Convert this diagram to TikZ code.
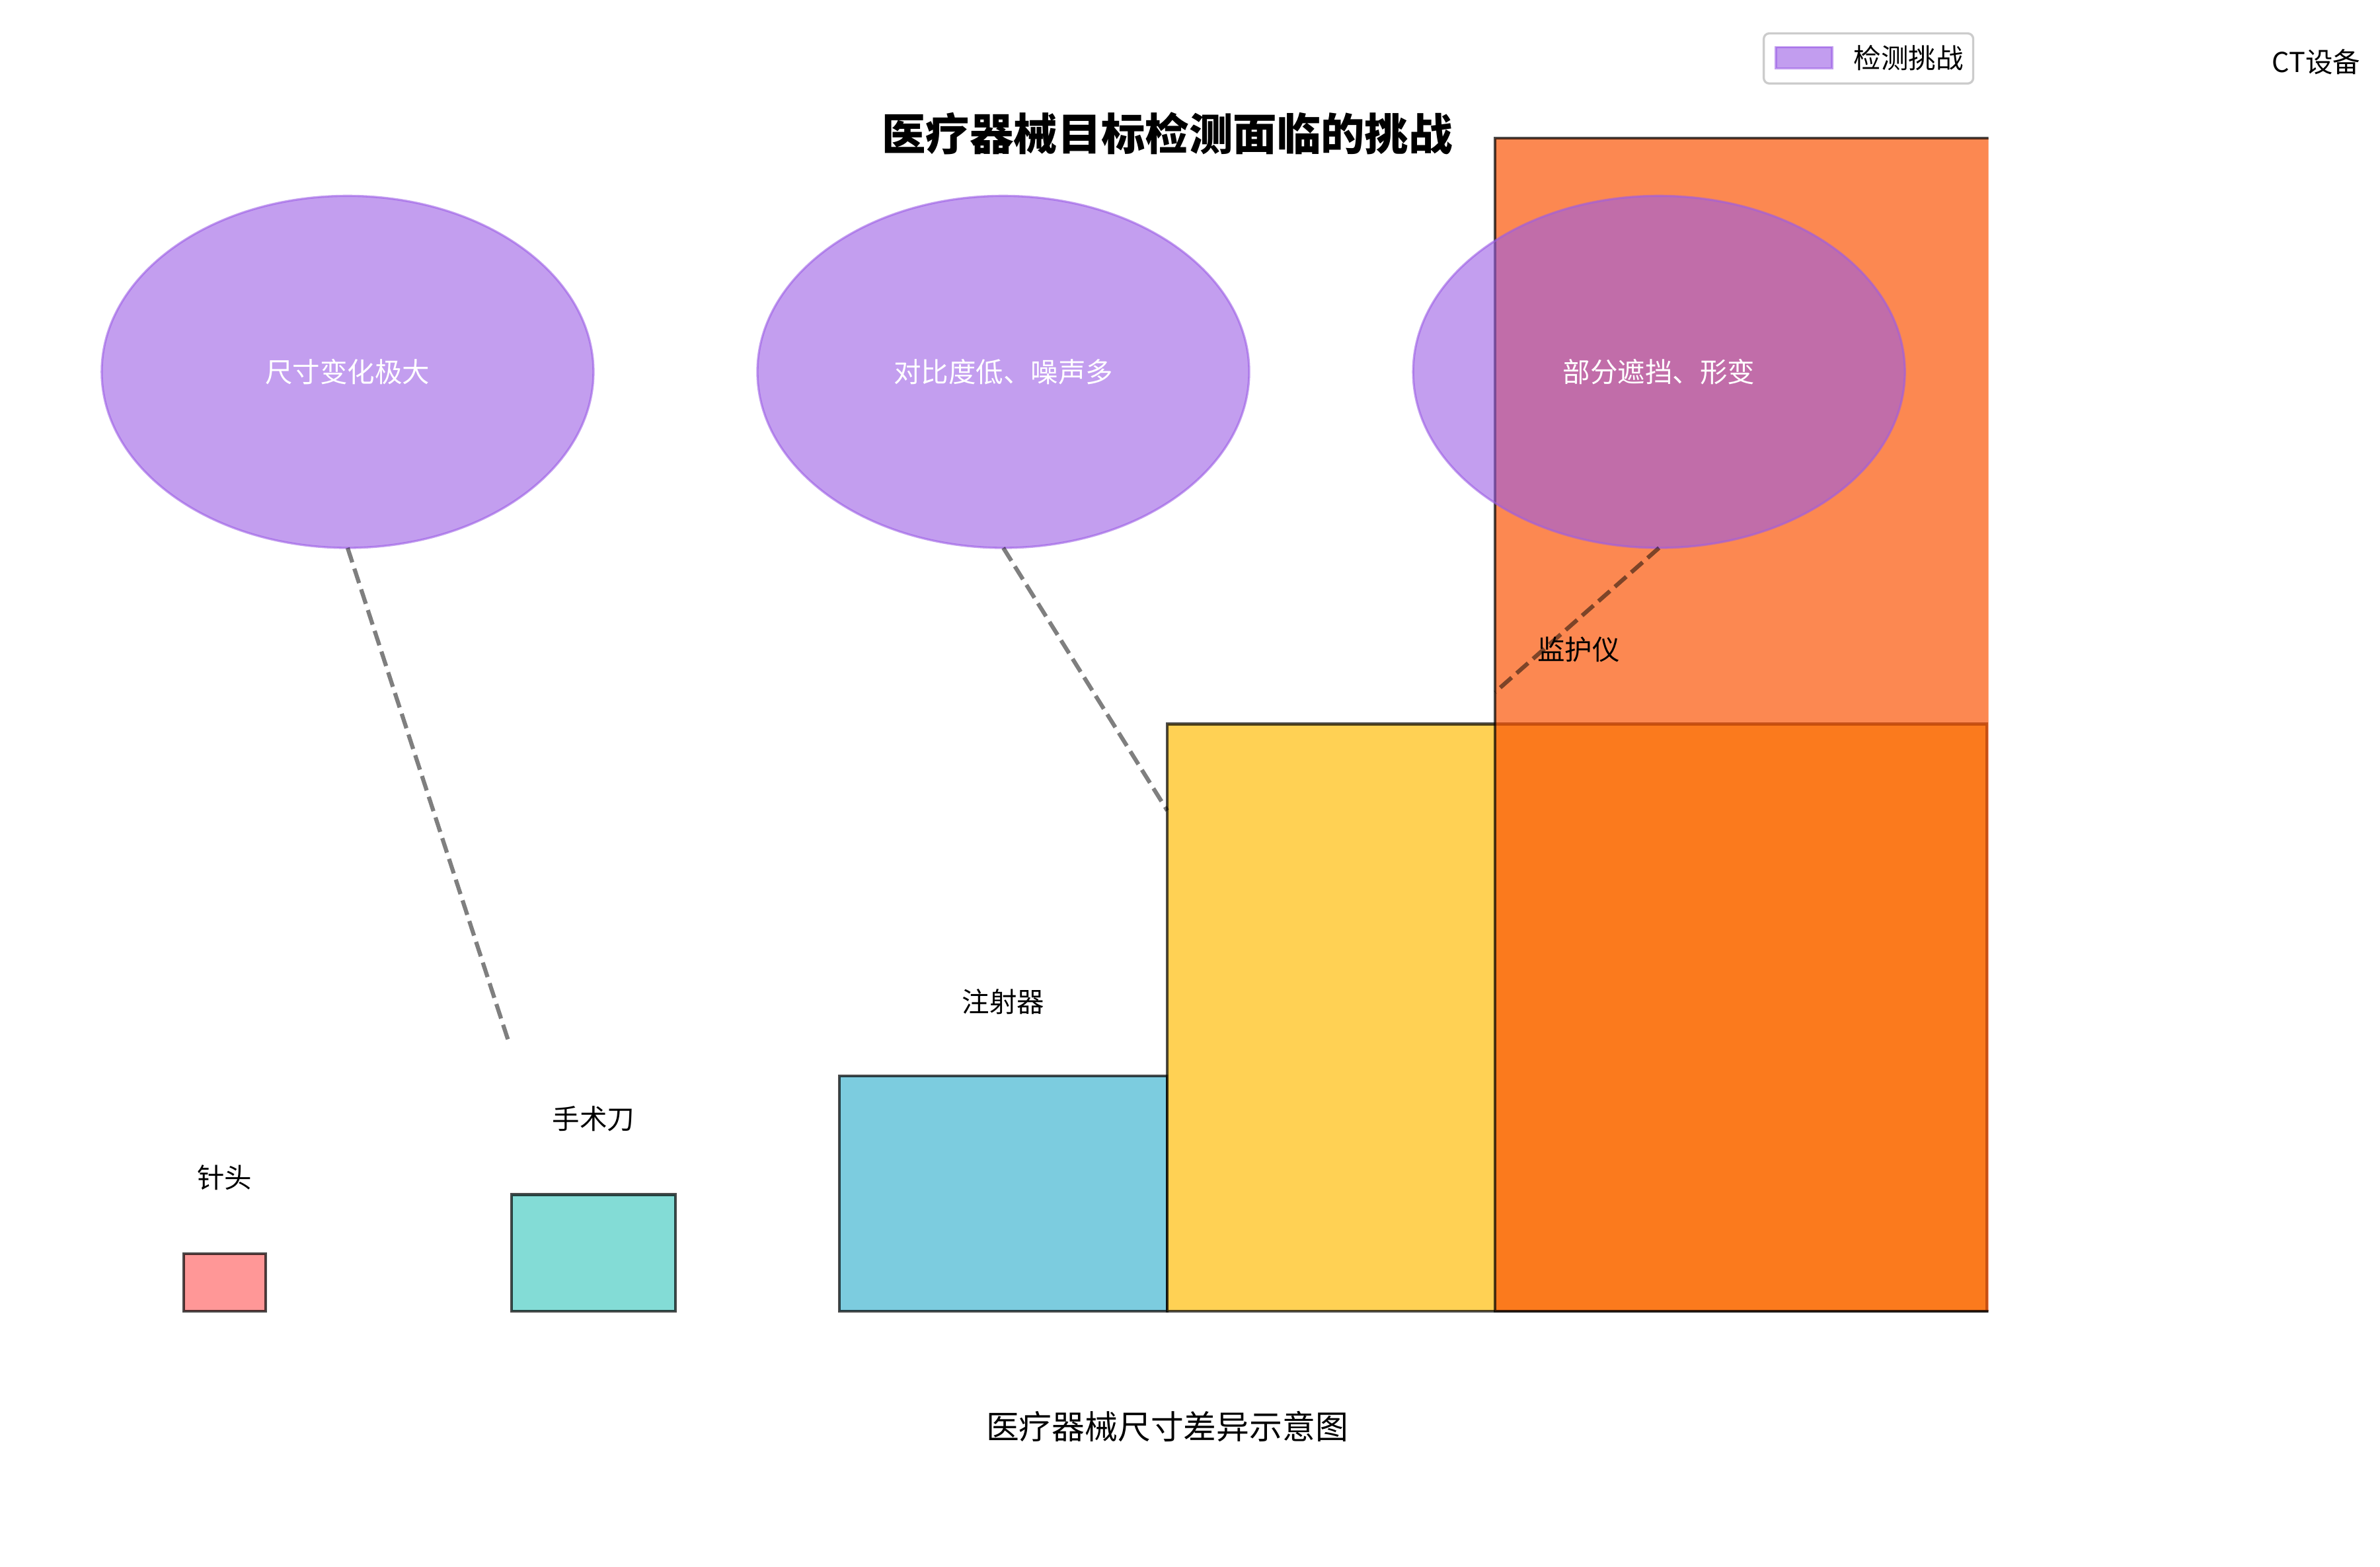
\documentclass[tikz,border=0pt]{standalone}
\usepackage{fontspec}
\setmainfont{Noto Sans CJK SC}
\usepackage{tikz}
\usetikzlibrary{shapes.geometric}
\definecolor{cNeedle}{HTML}{FF6B6B}
\definecolor{cScalpel}{HTML}{4ECDC4}
\definecolor{cSyringe}{HTML}{45B7D1}
\definecolor{cMonitor}{HTML}{FFBE0B}
\definecolor{cCT}{HTML}{FB5607}
\definecolor{cChallenge}{HTML}{9B5DE5}

\begin{document}
\begin{tikzpicture}[x=0.19446mm, y=-0.19446mm, font=\fontsize{10}{12}\selectfont,
  devbox/.style={draw=black, draw opacity=0.7, fill opacity=0.7, line width=1pt},
  challenge/.style={ellipse, draw=cChallenge, fill=cChallenge, fill opacity=0.6, draw opacity=0.6,
    text opacity=1, text=white, minimum width=63mm, minimum height=45.1mm,
    inner sep=0pt, outer sep=0pt, line width=0.8pt},
  link/.style={draw=black, draw opacity=0.5, line width=1.5pt, dash pattern=on 5.55pt off 2.4pt}]
\useasboundingbox (0,0) rectangle (1568,1032);
% device sizes, left edges 216 apart, clipped at the axis edge
\begin{scope}
\clip (0,0) rectangle (1310,1032);
\draw[devbox, fill=cNeedle]  (121,826) rectangle (175,864);
\draw[devbox, fill=cScalpel] (337,787) rectangle (445,864);
\draw[devbox, fill=cSyringe] (553,709) rectangle (769,864);
\draw[devbox, fill=cMonitor] (769,477) rectangle (1309,864);
\draw[devbox, fill=cCT]      (985,91)  rectangle (2066,864);
\end{scope}
\node (lNeedle)  at (148,776)  {针头};
\node (lScalpel) at (391,737)  {手术刀};
\node (lSyringe) at (661,660)  {注射器};
\node (lMonitor) at (1040,428) {监护仪};
\node (lCT)      at (1526,41)  {CT设备};
% challenges
\node[challenge] (cSize)      at (229,245)  {尺寸变化极大};
\node[challenge] (cContrast)  at (661,245)  {对比度低、噪声多};
\node[challenge] (cOcclusion) at (1093,245) {部分遮挡、形变};
\coordinate (tScalpel) at (335,686);
\coordinate (tMonitor) at (769,534);
\coordinate (tCT)      at (985,456);
\draw[link] (cSize.south) -- (tScalpel);
\draw[link] (cContrast.south) -- (tMonitor);
\draw[link] (cOcclusion.south) -- (tCT);
\node[font=\fontsize{16}{19}\selectfont\bfseries] (title) at (769,88) {医疗器械目标检测面临的挑战};
\node[font=\fontsize{12}{14}\selectfont] (caption) at (769,940) {医疗器械尺寸差异示意图};
% legend
\draw[rounded corners=2pt, draw=black!20, fill=white, fill opacity=0.8, line width=0.8pt] (1162,22) rectangle (1300,55);
\draw[fill=cChallenge, draw=cChallenge, fill opacity=0.6, draw opacity=0.6, line width=0.8pt] (1170,31) rectangle (1207,45);
\node[anchor=west, inner sep=0pt] (legText) at (1221,38) {检测挑战};
\end{tikzpicture}
\end{document}
